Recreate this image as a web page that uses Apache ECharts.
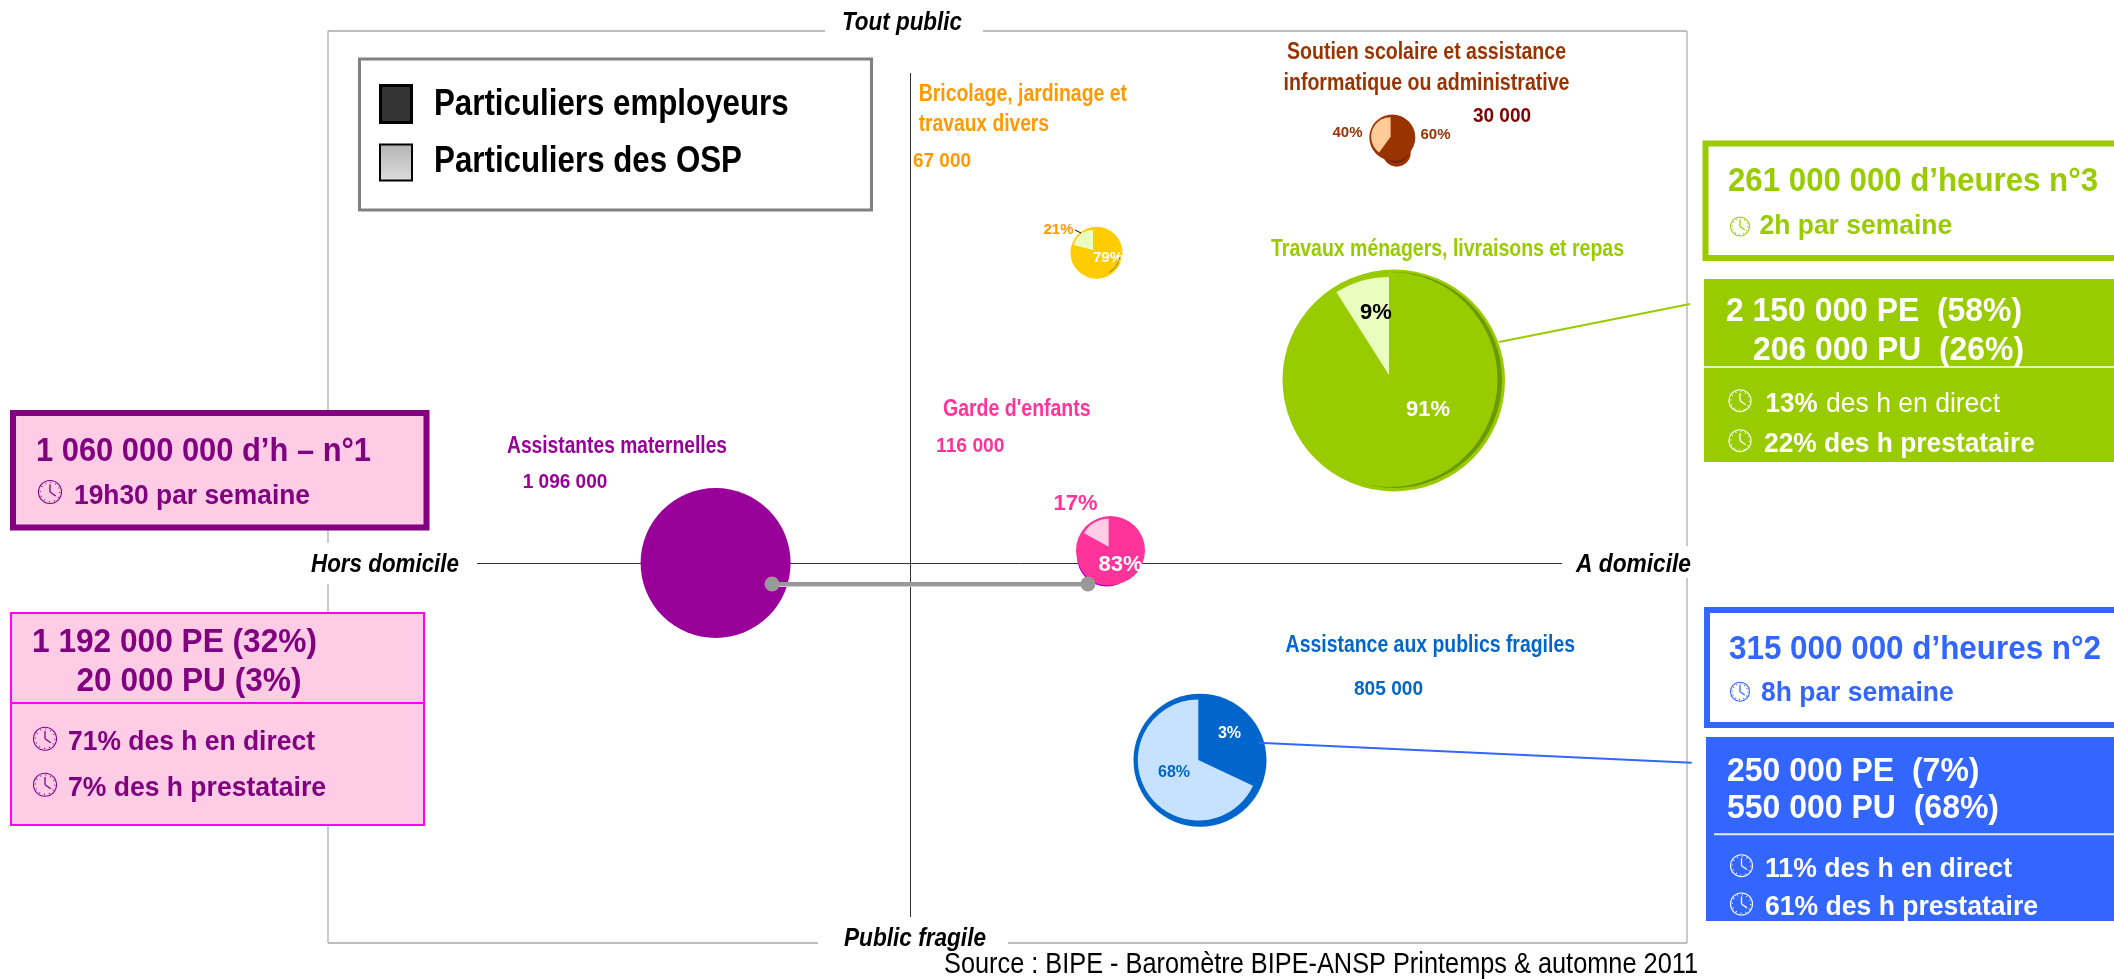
<!DOCTYPE html>
<html><head><meta charset="utf-8">
<style>html,body{margin:0;padding:0;background:#fff}#c{width:2114px;height:979px}</style>
<script src="https://cdn.jsdelivr.net/npm/echarts@6/dist/echarts.min.js"></script>
</head><body><div id="c"></div>
<script>
// ---------- DATA ----------
const travauxValues = [91, 9];
const travauxLabels = ['91%', '9%'];
const bricolageValues = [79, 21];
const bricolageLabels = ['79%', '21%'];
const soutienValues = [60, 40];
const soutienLabels = ['60%', '40%'];
const gardeValues = [83, 17];
const gardeLabels = ['83%', '17%'];
const assistanceValues = [32, 68];
const assistanceLabels = ['3%', '68%'];
const maternellesValues = [100];

const serviceLabels = ['Assistantes maternelles', '1 096 000', "Garde d'enfants", '116 000',
  'Bricolage, jardinage et', 'travaux divers', '67 000',
  'Soutien scolaire et assistance', 'informatique ou administrative', '30 000',
  'Travaux ménagers, livraisons et repas', 'Assistance aux publics fragiles', '805 000'];
const axisLabels = ['Tout public', 'Public fragile', 'Hors domicile', 'A domicile'];
const legendLabels = ['Particuliers employeurs', 'Particuliers des OSP'];
const sourceLabel = ['Source : BIPE - Baromètre BIPE-ANSP Printemps & automne 2011'];
const maternellesBox = ['1 060 000 000 d’h – n°1', '19h30 par semaine', '1 192 000 PE (32%)', '20 000 PU (3%)',
  '71% des h en direct', '7% des h prestataire'];
const travauxBox = ['261 000 000 d’heures n°3', '2h par semaine', '2 150 000 PE  (58%)', '206 000 PU  (26%)',
  '13%', 'des h en direct', '22% des h prestataire'];
const assistanceBox = ['315 000 000 d’heures n°2', '8h par semaine', '250 000 PE  (7%)', '550 000 PU  (68%)',
  '11% des h en direct', '61% des h prestataire'];

// ---------- STYLE / LAYOUT ----------
const FONT = '"Liberation Sans", Arial, sans-serif';
const PURPLE = '#800080', MAGENTA = '#990099', PINK = '#FF3399', ORANGE = '#FF9900', BROWN = '#993300',
  GREEN = '#99CC00', BLUE = '#3366FF', DBLUE = '#0066CC', ROSE = '#FFCCE6', YELLOW = '#FFCC00';

const measure = document.createElement('canvas').getContext('2d');
const els = [];
function rect(x, y, w, h, fill, stroke, lw, z) {
  els.push({ type: 'rect', z: z == null ? 5 : z, silent: true, shape: { x, y, width: w, height: h },
    style: { fill: fill || 'transparent', stroke: stroke || null, lineWidth: lw || 0 } });
}
function line(x1, y1, x2, y2, color, lw, z) {
  els.push({ type: 'line', z: z == null ? 0 : z, silent: true, shape: { x1, y1, x2, y2 },
    style: { stroke: color, lineWidth: lw, fill: null } });
}
function disc(cx, cy, r, color, z) {
  els.push({ type: 'circle', z: z == null ? 1 : z, silent: true, shape: { cx, cy, r }, style: { fill: color } });
}
function text(s, x, base, width, size, color, weight, italic) {
  const font = (italic ? 'italic ' : '') + (weight || 'bold') + ' ' + size + 'px ' + FONT;
  measure.font = font;
  const sx = width ? width / measure.measureText(s).width : 1;
  els.push({ type: 'text', z: 10, silent: true, x, y: base + 2 - size * 0.3465, scaleX: sx, originX: 0, originY: 0,
    style: { text: s, x: 0, y: 0, font, fill: color, align: 'left', verticalAlign: 'middle' } });
}
function clock(cx, cy, r, color) {
  els.push({ type: 'circle', z: 10, silent: true, shape: { cx, cy, r }, style: { fill: null, stroke: color, lineWidth: 1.1 } });
  els.push({ type: 'circle', z: 10, silent: true, shape: { cx, cy, r: r - 1.8 },
    style: { fill: null, stroke: color, lineWidth: 1.2, lineDash: [1, (2 * Math.PI * (r - 1.8)) / 12 - 1] } });
  line(cx, cy, cx, cy - r * 0.68, color, 1.3, 10);
  line(cx, cy, cx + r * 0.5, cy + r * 0.35, color, 1.3, 10);
}

// frame with gaps
const FR = '#a9a9a9';
line(328, 31, 825, 31, FR, 1.5); line(983, 31, 1687, 31, FR, 1.5);
line(328, 31, 328, 543, FR, 1.2); line(328, 584, 328, 943, FR, 1.2);
line(328, 943, 818, 943, FR, 1.5); line(1008, 943, 1687, 943, FR, 1.5);
line(1687, 31, 1687, 546, FR, 1.2); line(1687, 578, 1687, 943, FR, 1.2);
// axes
line(477, 563.5, 1562, 563.5, '#333', 1);
line(910.5, 73, 910.5, 917, '#333', 1);

// axis labels
text(axisLabels[0], 842, 30, 120, 25, '#000', 'bold', true);
text(axisLabels[1], 844, 946, 142, 25, '#000', 'bold', true);
text(axisLabels[2], 311, 572, 148, 25, '#000', 'bold', true);
text(axisLabels[3], 1576, 572, 115, 25, '#000', 'bold', true);

// legend
rect(359.5, 59, 512, 151, '#fff', '#808080', 3, 3);
rect(380.5, 85.5, 31, 37, '#333333', '#000', 3);
els.push({ type: 'rect', z: 5, silent: true, shape: { x: 380, y: 144.5, width: 32, height: 36 },
  style: { stroke: '#000', lineWidth: 2, fill: { type: 'linear', x: 0, y: 0, x2: 0, y2: 1,
    colorStops: [{ offset: 0, color: '#b3b3b3' }, { offset: 1, color: '#dcdcdc' }] } } });
text(legendLabels[0], 434, 116, 354.6, 37, '#000');
text(legendLabels[1], 434, 172.7, 308, 37, '#000');

// left boxes
rect(13, 413, 413.5, 114.5, ROSE, PURPLE, 6);
rect(11, 613, 413, 212, ROSE, '#FF00FF', 2);
line(11, 703, 424, 703, '#FF00FF', 2, 6);
const mLayout = [[36, 461, 335, 33], [74, 504, 236, 27], [32, 652, 285, 33], [76.5, 691, 225, 33], [68, 750, 247, 27], [68, 796, 258, 27]];
maternellesBox.forEach((s, i) => text(s, mLayout[i][0], mLayout[i][1], mLayout[i][2], mLayout[i][3], PURPLE));
clock(50, 492, 11.5, PURPLE); clock(45, 738.7, 11.5, PURPLE); clock(45, 784.7, 11.5, PURPLE);

// green boxes
rect(1705.5, 143.5, 460, 114.5, '#fff', GREEN, 6);
rect(1704, 279, 420, 183, GREEN, null, 0);
line(1704, 367, 2114, 367, '#E6F2BF', 2, 6);
text(travauxBox[0], 1728, 191.7, 370, 33, GREEN);
text(travauxBox[1], 1759.5, 234, 192.6, 27, GREEN);
text(travauxBox[2], 1726, 321.7, 296, 33, '#fff');
text(travauxBox[3], 1753, 360.7, 271, 33, '#fff');
text(travauxBox[4], 1765.6, 411.7, 52, 27, '#fff');
text(travauxBox[5], 1826, 411.7, 174, 27, '#fff', 'normal');
text(travauxBox[6], 1764, 451.7, 271, 27, '#fff');
clock(1740, 226.5, 9.5, GREEN); clock(1740, 400.7, 11, '#fff'); clock(1740, 440.7, 11, '#fff');

// blue boxes
rect(1707, 610, 460, 115, '#fff', BLUE, 6);
rect(1706, 737, 420, 184, BLUE, null, 0);
line(1714, 834.3, 2114, 834.3, '#E6ECFF', 2, 6);
text(assistanceBox[0], 1729, 659, 372, 33, BLUE);
text(assistanceBox[1], 1761, 700.7, 192.6, 27, BLUE);
text(assistanceBox[2], 1727, 781, 252.5, 33, '#fff');
text(assistanceBox[3], 1727, 818, 272, 33, '#fff');
text(assistanceBox[4], 1765, 876.7, 247, 27, '#fff');
text(assistanceBox[5], 1765, 915, 273, 27, '#fff');
clock(1740, 691.7, 9.5, BLUE); clock(1741.5, 865.7, 11, '#fff'); clock(1741.5, 904, 11, '#fff');

// service labels
const sLayout = [[507, 452.7, 220, 23, MAGENTA], [522.7, 487.7, 84.6, 20, MAGENTA], [943, 415.7, 147.6, 23, PINK], [936, 451.7, 68.5, 20, PINK],
  [918.7, 101, 208.3, 23, ORANGE], [918.7, 130.7, 130.3, 23, ORANGE], [913, 166, 58, 20, ORANGE],
  [1287, 59, 279, 23, BROWN], [1283.5, 89.3, 286, 23, BROWN], [1473, 121, 58, 20, '#800000'],
  [1271, 256, 353, 23, GREEN], [1285.6, 651.7, 289.4, 23, DBLUE], [1354, 694, 69, 20, DBLUE]];
serviceLabels.forEach((s, i) => text(s, sLayout[i][0], sLayout[i][1], sLayout[i][2], sLayout[i][3], sLayout[i][4]));

text(sourceLabel[0], 944, 972.7, 754, 29, '#000', 'normal');

// rims under pies
disc(1394, 380.5, 111, GREEN);
disc(1394, 380, 108, '#6B9900');
disc(1390, 379.5, 107.5, GREEN);
disc(1107, 556.5, 30, '#9900CC');
disc(1108, 555, 30.5, PINK);
disc(1110.5, 550.5, 34.5, PINK);
disc(1096.5, 252.7, 26, YELLOW);
els.push({ type: 'arc', z: 3, silent: true, shape: { cx: 1096, cy: 252, r: 24.5, startAngle: 0.2, endAngle: 1.0 },
  style: { stroke: '#8a7a10', lineWidth: 1, fill: null } });
disc(1396.7, 152.7, 14, BROWN);
disc(1396, 150, 13, '#702400');
disc(1396, 147.5, 13.5, BROWN);
disc(1392.3, 137.5, 23, BROWN);
disc(1200, 760.3, 66.5, DBLUE);

// connectors
line(772, 586.5, 1088, 586.5, '#cfcfcf', 1, 9);
line(772, 584, 1088, 584, '#999999', 4, 9);
disc(772, 584, 7.5, '#999999', 9);
disc(1088, 584, 7.5, '#999999', 9);
line(1499, 342, 1690, 304, GREEN, 2, 9);
line(1258.4, 742.7, 1691.7, 762.7, BLUE, 2, 9);
line(1075, 230, 1081, 233, '#000', 1, 9);

// ---------- PIES ----------
function pie(name, center, r, values, colors, labels, labelStyle, labelPos) {
  return {
    type: 'pie', name, center, radius: [0, r], startAngle: 90, clockwise: true, silent: true, z: 2,
    animation: false, avoidLabelOverlap: false, minShowLabelAngle: 0, percentPrecision: 0,
    label: { show: !!labels, position: 'inside' }, labelLine: { show: false },
    emphasis: { disabled: true }, itemStyle: { borderWidth: 0 },
    labelLayout: labelPos ? (p) => ({ x: labelPos[p.dataIndex][0], y: labelPos[p.dataIndex][1], align: 'center', verticalAlign: 'middle' }) : undefined,
    data: values.map((v, i) => ({
      value: v, itemStyle: { color: colors[i] },
      label: labels ? { formatter: labels[i], color: labelStyle[i][0], fontSize: labelStyle[i][1], fontWeight: 'bold', fontFamily: FONT, position: 'inside' } : undefined
    }))
  };
}
const series = [
  pie('Assistantes maternelles', [715.6, 563], 75, maternellesValues, [MAGENTA]),
  pie('Garde d\'enfants', [1108.6, 546.7], 28, gardeValues, [PINK, '#FFCCE6'], gardeLabels,
    [['#fff', 22], [PINK, 22]], [[1120.5, 565], [1075.5, 504]]),
  pie('Bricolage', [1093, 250], 20, bricolageValues, [YELLOW, '#EAFFBF'], bricolageLabels,
    [['#fff', 15], [ORANGE, 15]], [[1108, 257.7], [1058.5, 230]]),
  pie('Soutien', [1390.6, 136.7], 19.5, soutienValues, [BROWN, '#FFCC99'], soutienLabels,
    [[BROWN, 15], [BROWN, 15]], [[1435.5, 135], [1347.5, 133]]),
  pie('Travaux', [1389, 375], 98, travauxValues, [GREEN, '#EAFFBF'], travauxLabels,
    [['#fff', 22], ['#000', 22]], [[1428, 410], [1376, 313]]),
  pie('Assistance', [1198.3, 760], 60.5, assistanceValues, [DBLUE, '#C6E2FF'], assistanceLabels,
    [['#fff', 16], [DBLUE, 16]], [[1229.5, 734], [1174, 772.7]])
];

const chart = echarts.init(document.getElementById('c'), null, { renderer: 'canvas' });
chart.setOption({ backgroundColor: '#fff', animation: false, graphic: { elements: els }, series });
</script></body></html>
